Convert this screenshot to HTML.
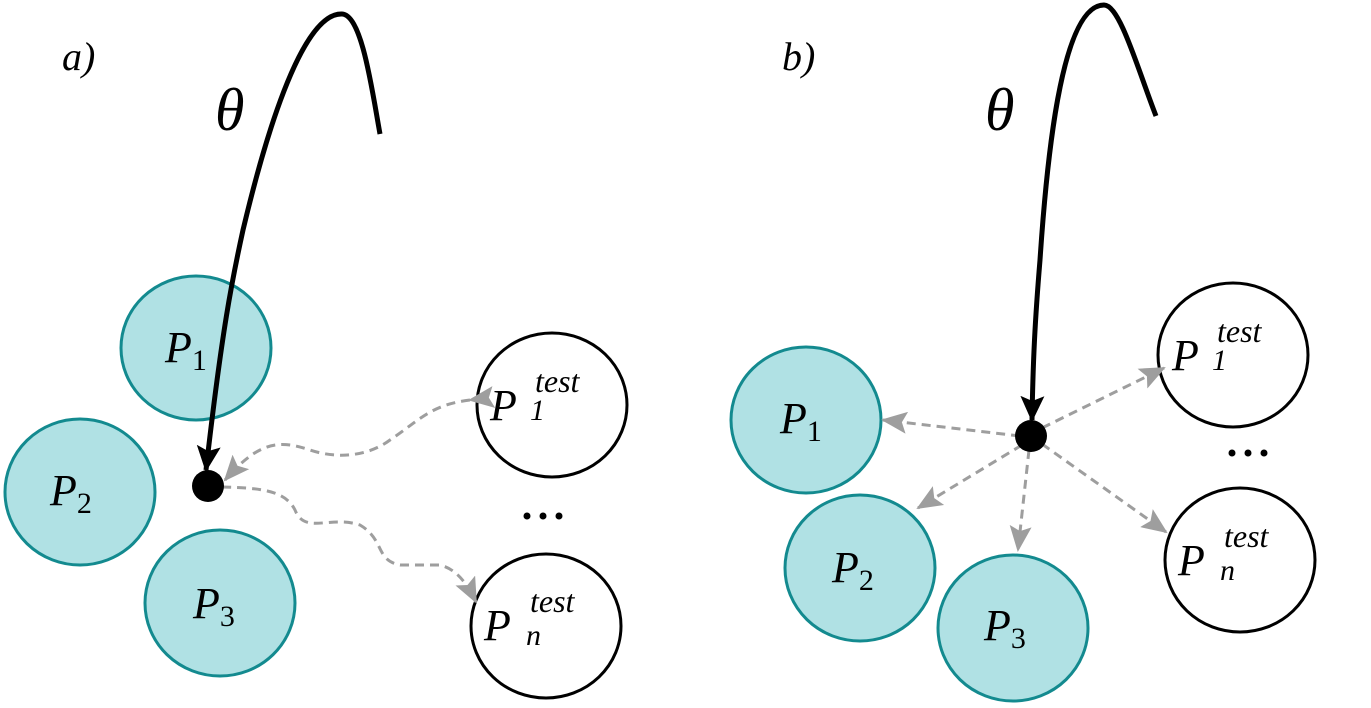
<!DOCTYPE html>
<html><head><style>
html,body{margin:0;padding:0;background:#fff;width:1371px;height:708px;overflow:hidden}
svg text{font-family:"Liberation Serif",serif;font-style:italic;fill:#000}
</style></head><body>
<svg width="1371" height="708" viewBox="0 0 1371 708" xmlns="http://www.w3.org/2000/svg">
<defs>
<marker id="g" markerWidth="10" markerHeight="10" refX="8" refY="5" orient="auto" markerUnits="userSpaceOnUse" viewBox="0 0 10 10"><path d="M0,0 L10,5 L0,10 z" fill="#9e9e9e"/></marker>
<marker id="gs" markerWidth="26" markerHeight="22" refX="24" refY="11" orient="auto" markerUnits="userSpaceOnUse"><path d="M0,0 L26,11 L0,22 L5,11 z" fill="#9e9e9e"/></marker>
<marker id="bk" markerWidth="26" markerHeight="24" refX="24" refY="12" orient="auto" markerUnits="userSpaceOnUse"><path d="M0,0 L26,12 L0,24 L5,12 z" fill="#000"/></marker>
</defs>
<g stroke="#138a8f" stroke-width="3" fill="#b0e1e4">
<ellipse cx="196" cy="348" rx="75" ry="72"/>
<ellipse cx="80" cy="492" rx="75" ry="73"/>
<ellipse cx="220" cy="603" rx="75" ry="73"/>
<ellipse cx="806" cy="420" rx="75" ry="73"/>
<ellipse cx="860" cy="568" rx="75" ry="73"/>
<ellipse cx="1013" cy="628" rx="75" ry="73"/>
</g>
<g stroke="#000" stroke-width="3" fill="#fff">
<ellipse cx="552" cy="405" rx="75" ry="72"/>
<ellipse cx="546" cy="626" rx="75" ry="72"/>
<ellipse cx="1233" cy="355" rx="75" ry="72"/>
<ellipse cx="1240" cy="560" rx="75" ry="72"/>
</g>
<g fill="none" stroke="#000" stroke-width="5">
<path d="M380,134 C372,90 362,15 342,14 C300,12 262,150 243,230 C232,280 222,330 206,470" marker-end="url(#bk)"/>
<path d="M1156,116 C1138,70 1120,5 1104,5 C1060,5 1046,170 1040,260 C1035,320 1033,360 1032,420" marker-end="url(#bk)"/>
</g>
<g fill="none" stroke="#9e9e9e" stroke-width="3" stroke-dasharray="9,6">
<path d="M470,400 C430,405 420,420 390,440 C370,455 340,460 310,450 C280,440 260,440 225,480" marker-start="url(#gs)" marker-end="url(#gs)"/>
<path d="M222,487 C260,488 285,490 295,510 C305,535 330,515 360,525 C385,540 375,560 400,565 L440,565 C460,570 470,590 476,602" marker-end="url(#gs)"/>
<path d="M1020,436 L883,420" marker-end="url(#gs)"/>
<path d="M1022,445 L918,508" marker-end="url(#gs)"/>
<path d="M1029,450 L1018,550" marker-end="url(#gs)"/>
<path d="M1042,428 L1164,368" marker-end="url(#gs)"/>
<path d="M1042,444 L1166,532" marker-end="url(#gs)"/>
</g>
<circle cx="208" cy="486" r="16" fill="#000"/>
<circle cx="1031" cy="436" r="16" fill="#000"/>
<g fill="#000"><circle cx="527" cy="516" r="3.5"/><circle cx="543" cy="516" r="3.5"/><circle cx="559" cy="516" r="3.5"/>
<circle cx="1232" cy="453" r="3.5"/><circle cx="1248" cy="453" r="3.5"/><circle cx="1264" cy="453" r="3.5"/></g>
<text x="62" y="70" font-size="40">a)</text>
<text x="782" y="70" font-size="40">b)</text>
<text x="215" y="130" font-size="60">θ</text>
<text x="985" y="130" font-size="60">θ</text>
<g font-size="44">
<text x="165" y="362">P<tspan font-style="normal" font-size="30" dy="8">1</tspan></text>
<text x="50" y="505">P<tspan font-style="normal" font-size="30" dy="8">2</tspan></text>
<text x="193" y="618">P<tspan font-style="normal" font-size="30" dy="8">3</tspan></text>
<text x="780" y="433">P<tspan font-style="normal" font-size="30" dy="8">1</tspan></text>
<text x="832" y="582">P<tspan font-style="normal" font-size="30" dy="8">2</tspan></text>
<text x="984" y="640">P<tspan font-style="normal" font-size="30" dy="8">3</tspan></text>
<text x="490" y="420">P</text><text x="530" y="420" font-style="normal" font-size="30">1</text><text x="535" y="392" font-size="32">test</text>
<text x="484" y="640">P</text><text x="526" y="645" font-size="30">n</text><text x="530" y="612" font-size="32">test</text>
<text x="1172" y="370">P</text><text x="1212" y="370" font-style="normal" font-size="30">1</text><text x="1217" y="342" font-size="32">test</text>
<text x="1178" y="575">P</text><text x="1220" y="580" font-size="30">n</text><text x="1224" y="547" font-size="32">test</text>
</g>
</svg>
</body></html>
